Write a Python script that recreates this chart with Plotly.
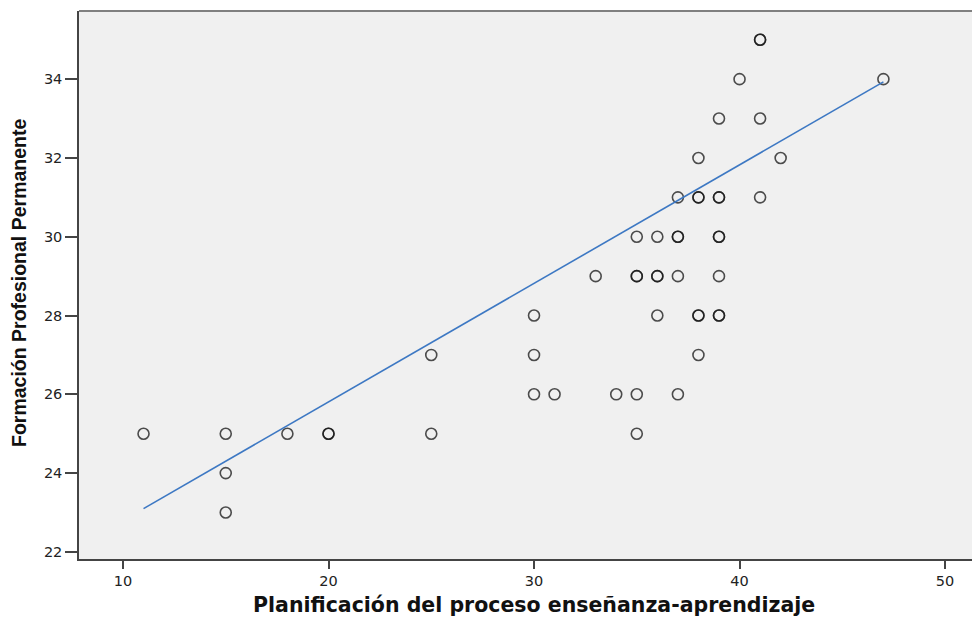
import plotly.graph_objects as go

# Scatter data (duplicates appear as darker, overlapping circles)
x_vals = [41, 41,
          40, 47,
          39, 41,
          38, 42,
          37, 38, 38, 39, 39, 41,
          35, 36, 37, 37, 39, 39,
          33, 35, 35, 36, 36, 37, 39,
          30, 36, 38, 38, 39, 39,
          25, 30, 38,
          30, 31, 34, 35, 37,
          11, 15, 18, 20, 20, 25, 35,
          15,
          15]
y_vals = [35, 35,
          34, 34,
          33, 33,
          32, 32,
          31, 31, 31, 31, 31, 31,
          30, 30, 30, 30, 30, 30,
          29, 29, 29, 29, 29, 29, 29,
          28, 28, 28, 28, 28, 28,
          27, 27, 27,
          26, 26, 26, 26, 26,
          25, 25, 25, 25, 25, 25, 25,
          24,
          23]

# Fit line endpoints
fit_x = [11, 47]
fit_y = [23.1, 33.93]

x_ticks = [10, 20, 30, 40, 50]
y_ticks = [22, 24, 26, 28, 30, 32, 34]

x_title = "Planificación del proceso enseñanza-aprendizaje"
y_title = "Formación Profesional Permanente"

fig = go.Figure()
fig.add_trace(go.Scatter(
    x=x_vals, y=y_vals, mode="markers",
    marker=dict(symbol="circle-open", size=11,
                color="rgba(20,20,20,0.75)",
                line=dict(width=1.6, color="rgba(20,20,20,0.75)")),
    showlegend=False, hoverinfo="x+y"))
fig.add_trace(go.Scatter(
    x=fit_x, y=fit_y, mode="lines",
    line=dict(color="#3d78c3", width=1.6),
    showlegend=False))

# page offset (browser body margin)
OFF = 8
W, H = 980 - OFF, 617 - OFF
# plot area in page pixels
PL, PT, PB, PR = 79, 11, 559, 980
L, T = PL - OFF, PT - OFF
B = H - (PB - OFF)
R = 0
pw = PR - PL
ph = PB - PT

fig.update_layout(
    width=W, height=H,
    margin=dict(l=L, r=R, t=T, b=B, pad=0),
    paper_bgcolor="white", plot_bgcolor="#f0f0f0",
    font=dict(family="DejaVu Sans", size=14, color="#222"),
    xaxis=dict(range=[7.86, 51.7], tickvals=x_ticks, showgrid=False, zeroline=False,
               showline=True, linecolor="#444", linewidth=1.5,
               ticks="outside", ticklen=8, tickwidth=1.5, tickcolor="#444",
               tickfont=dict(family="DejaVu Sans", size=14.5, color="#222")),
    yaxis=dict(range=[21.82, 35.73], tickvals=y_ticks, showgrid=False, zeroline=False,
               showline=True, linecolor="#444", linewidth=1.5,
               ticks="outside", ticklen=12, tickwidth=1.5, tickcolor="#444",
               tickfont=dict(family="DejaVu Sans", size=14.5, color="#222")),
    shapes=[dict(type="line", xref="paper", yref="paper", x0=0, x1=1, y0=1, y1=1,
                 line=dict(color="#808080", width=2))],
    annotations=[
        dict(text=x_title, xref="paper", yref="paper",
             x=(534 - PL) / pw, y=(PB - 605) / ph, xanchor="center", yanchor="middle",
             showarrow=False, font=dict(family="DejaVu Sans", size=20.5, color="#111", weight="bold")),
        dict(text=y_title, xref="paper", yref="paper",
             x=(19 - PL) / pw, y=(PB - 283) / ph, xanchor="center", yanchor="middle",
             textangle=-90, showarrow=False,
             font=dict(family="Liberation Sans Narrow, Liberation Sans", size=19.5, color="#111", weight="bold")),
    ],
)

fig.write_html("out.html")
